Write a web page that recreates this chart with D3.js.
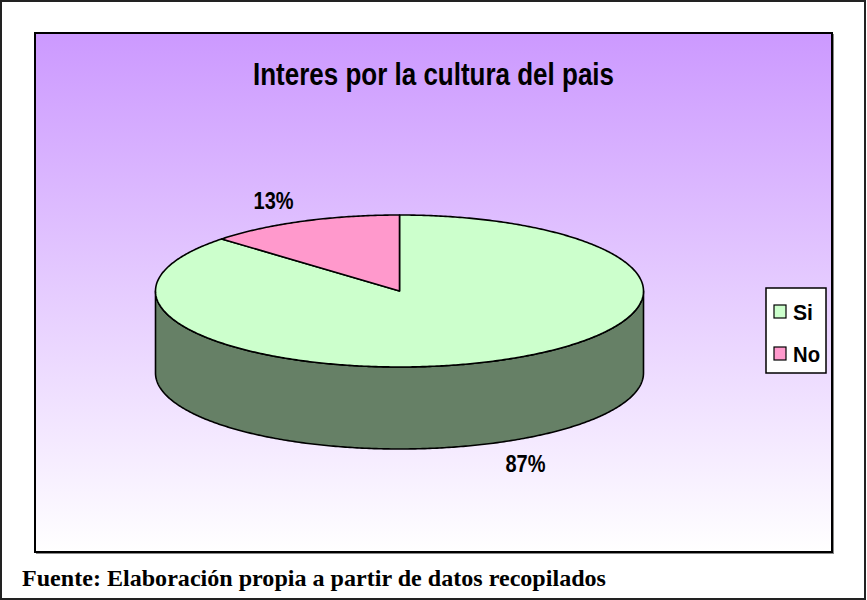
<!DOCTYPE html>
<html>
<head>
<meta charset="utf-8">
<script src="https://cdn.jsdelivr.net/npm/d3@7"></script>
<style>
  html, body { margin: 0; padding: 0; background: #ffffff; }
  svg { display: block; }
</style>
</head>
<body>
<svg id="chart" width="867" height="600"></svg>
<script>
// Survey answers and their shares
const categories = ["Si", "No"];
const values = [87, 13];
const colors = ["#ccffcc", "#ff99cc"];
const sideColors = ["#668066", "#99667f"];
const title = "Interes por la cultura del pais";
const source = "Fuente: Elaboración propia a partir de datos recopilados";

const svg = d3.select("#chart");
const W = 867, H = 600;

// Outer frame
svg.append("rect")
  .attr("x", 1).attr("y", 1).attr("width", W - 3).attr("height", H - 2)
  .attr("fill", "#ffffff").attr("stroke", "#222").attr("stroke-width", 2);

// Plot area with vertical lavender gradient
const defs = svg.append("defs");
const grad = defs.append("linearGradient")
  .attr("id", "bg").attr("x1", 0).attr("y1", 0).attr("x2", 0).attr("y2", 1);
grad.append("stop").attr("offset", "0%").attr("stop-color", "#cc99ff");
grad.append("stop").attr("offset", "100%").attr("stop-color", "#ffffff");

const plot = { x: 35, y: 33, w: 797, h: 519 };
svg.append("rect")
  .attr("x", plot.x + 1.5).attr("y", plot.y + 1.5)
  .attr("width", plot.w).attr("height", plot.h)
  .attr("fill", "none").attr("stroke", "#888").attr("stroke-width", 1);
svg.append("rect")
  .attr("x", plot.x).attr("y", plot.y).attr("width", plot.w).attr("height", plot.h)
  .attr("fill", "url(#bg)").attr("stroke", "#000").attr("stroke-width", 2);

// Title
svg.append("text")
  .attr("x", 433.5).attr("y", 85)
  .attr("text-anchor", "middle")
  .attr("font-family", "Liberation Sans, Arial, sans-serif")
  .attr("font-weight", "bold").attr("font-size", 32)
  .attr("textLength", 361).attr("lengthAdjust", "spacingAndGlyphs")
  .text(title);

// 3D pie geometry: flattened circle (ellipse) with a depth
const cx = 399.5, cy = 291, rx = 244, ry = 76, depth = 82;
const pie = d3.pie().sort(null).value(d => d.value).startAngle(0).endAngle(2 * Math.PI);
const data = categories.map((c, i) => ({ name: c, value: values[i], i }));
const arcs = pie(data);
const total = d3.sum(values);

const pt = (a, dy = 0, k = 1) => [cx + k * rx * Math.sin(a), cy - k * ry * Math.cos(a) + dy];
function arcPoints(a0, a1, dy = 0) {
  const n = Math.max(2, Math.ceil(Math.abs(a1 - a0) / 0.01));
  return d3.range(n + 1).map(j => pt(a0 + (a1 - a0) * j / n, dy));
}
const line = d3.line();

const g = svg.append("g");

// Front side walls (visible between 90° and 270°)
arcs.forEach(a => {
  const s = Math.max(a.startAngle, Math.PI / 2);
  const e = Math.min(a.endAngle, 3 * Math.PI / 2);
  if (e <= s) return;
  const top = arcPoints(s, e, 0);
  const bottom = arcPoints(e, s, depth);
  g.append("path")
    .attr("d", line(top.concat(bottom)) + "Z")
    .attr("fill", sideColors[a.data.i])
    .attr("stroke", "#000").attr("stroke-width", 1.6)
    .attr("stroke-linejoin", "round");
});

// Top faces
arcs.forEach(a => {
  const pts = [[cx, cy]].concat(arcPoints(a.startAngle, a.endAngle, 0));
  g.append("path")
    .attr("d", line(pts) + "Z")
    .attr("fill", colors[a.data.i])
    .attr("stroke", "#000").attr("stroke-width", 1.6)
    .attr("stroke-linejoin", "round");
});

// Percentage labels placed outside each slice
arcs.forEach(a => {
  const mid = (a.startAngle + a.endAngle) / 2;
  const front = Math.cos(mid) < 0 ? depth : 0;
  const [lx, ly] = pt(mid, front, 1.3);
  svg.append("text")
    .attr("x", lx).attr("y", ly + 8.5)
    .attr("text-anchor", "middle")
    .attr("font-family", "Liberation Sans, Arial, sans-serif")
    .attr("font-weight", "bold").attr("font-size", 24)
    .attr("textLength", 40).attr("lengthAdjust", "spacingAndGlyphs")
    .text(Math.round(a.data.value / total * 100) + "%");
});

// Legend
const legend = svg.append("g");
legend.append("rect")
  .attr("x", 766).attr("y", 288).attr("width", 60).attr("height", 85)
  .attr("fill", "#ffffff").attr("stroke", "#000").attr("stroke-width", 1.5);
const legendY = d3.scalePoint().domain(categories).range([312, 354]);
const legendW = [20, 27];
categories.forEach((c, i) => {
  const y = legendY(c);
  legend.append("rect")
    .attr("x", 774).attr("y", y - 7).attr("width", 12).attr("height", 13)
    .attr("fill", colors[i]).attr("stroke", "#000").attr("stroke-width", 1.2);
  legend.append("text")
    .attr("x", 793).attr("y", y + 8)
    .attr("font-family", "Liberation Sans, Arial, sans-serif")
    .attr("font-weight", "bold").attr("font-size", 22)
    .attr("textLength", legendW[i]).attr("lengthAdjust", "spacingAndGlyphs")
    .text(c);
});

// Source note
svg.append("text")
  .attr("x", 22).attr("y", 586)
  .attr("font-family", "Liberation Serif, Times New Roman, serif")
  .attr("font-weight", "bold").attr("font-size", 23)
  .attr("textLength", 584).attr("lengthAdjust", "spacingAndGlyphs")
  .text(source);
</script>
</body>
</html>
